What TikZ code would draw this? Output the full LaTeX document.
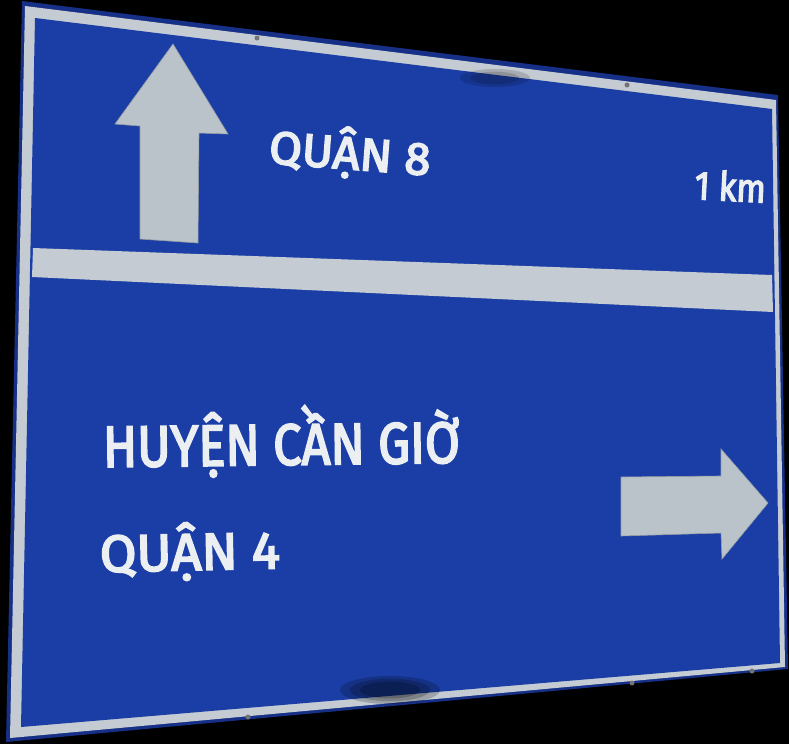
\documentclass[tikz,border=0pt]{standalone}
\usepackage{fontspec}
\setmainfont{Fira Sans}
\newfontfamily\signfont{Fira Sans}[FakeBold=3.5]
\usepackage{xcolor}
\definecolor{signblue}{RGB}{26,62,166}
\definecolor{edgeblue}{RGB}{22,48,135}
\definecolor{stripe}{RGB}{196,203,210}
\definecolor{arrowgray}{RGB}{186,195,202}
\definecolor{lettering}{RGB}{236,239,242}
\tikzset{
	label text/.style={text=lettering,inner sep=0pt,anchor=base west},
	arrow plate/.style={fill=arrowgray,draw=arrowgray!80!black,line width=0.6pt},
	rivet/.style={circle,fill=black!55,inner sep=0pt,minimum size=5pt}
}

\begin{document}
\begin{tikzpicture}[x=1pt,y=-1pt]
	% photo background
	\fill[black] (0,0) rectangle (789,744);
	\useasboundingbox (0,0) rectangle (789,744);
	% sign plate: outer edge, white border, blue field
	\fill[edgeblue] (22,1) -- (778,95) -- (788,669) -- (6,742) -- cycle;
	\fill[stripe] (25,6) -- (776,100) -- (785,667) -- (10,738) -- cycle;
	\fill[signblue] (35,18) -- (772,109) -- (780,663) -- (21,727) -- cycle;
	% divider band
	\fill[stripe] (33,248) -- (772,275) -- (773,312) -- (32,277) -- cycle;
	% arrows
	\fill[arrow plate] (173,44) -- (228,134) -- (199,133) -- (198,243) -- (140,239) -- (140,126) -- (115,124) -- cycle;
	\fill[arrow plate] (621,477) -- (721,476) -- (721,449) -- (768,503) -- (722,559) -- (721,533) -- (621,536) -- cycle;
	% lettering
	\node[label text,font=\fontsize{46}{46}\signfont,rotate=-4.4,xscale=1.03] (quan8) at (268,163) {QUẬN 8};
	\node[label text,font=\fontsize{40}{40}\signfont,rotate=-3,xscale=0.86] (dist) at (694,199) {1 km};
	\node[label text,font=\fontsize{58}{58}\signfont,rotate=0.7,xscale=0.87] (cangio) at (103,467) {HUYỆN CẦN GIỜ};
	\node[label text,font=\fontsize{52}{52}\signfont,rotate=1.2,xscale=1.02] (quan4) at (100,572) {QUẬN 4};
	% bolts and wear
	\foreach \p in {(257,38),(627,85),(632,683),(752,671),(248,717)}
		\node[rivet] at \p {};
	\foreach \r in {1,0.8,0.6}
		\fill[black,opacity=0.2] (390,690) ellipse ({50*\r} and {14*\r});
	\foreach \r in {1,0.7}
		\fill[black,opacity=0.15] (495,78) ellipse ({35*\r} and {9*\r});
\end{tikzpicture}
\end{document}
